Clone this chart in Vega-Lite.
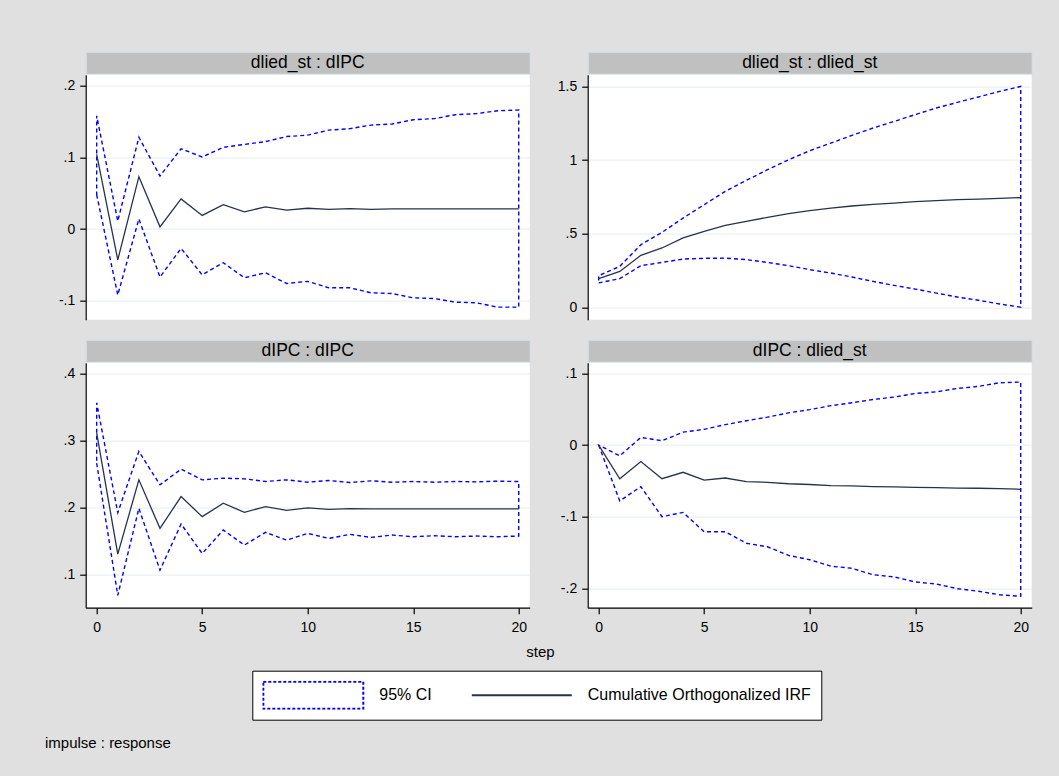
{
  "$schema": "https://vega.github.io/schema/vega-lite/v6.json",
  "background": "#e0e0e0",
  "padding": {"left": 44.7, "top": 50.7, "right": 26.3, "bottom": 25},
  "title": {"text": "impulse : response", "orient": "bottom", "anchor": "start", "frame": "group", "dx": -40.7, "offset": 16.3, "fontSize": 15, "fontWeight": "normal", "color": "#000000", "font": "Liberation Sans"},
  "data": {"values": [
    {"p": "a", "step": 0, "irf": 0.104, "lo": 0.048, "hi": 0.158},
    {"p": "a", "step": 1, "irf": -0.043, "lo": -0.092, "hi": 0.011},
    {"p": "a", "step": 2, "irf": 0.073, "lo": 0.014, "hi": 0.128},
    {"p": "a", "step": 3, "irf": 0.003, "lo": -0.067, "hi": 0.074},
    {"p": "a", "step": 4, "irf": 0.042, "lo": -0.027, "hi": 0.112},
    {"p": "a", "step": 5, "irf": 0.019, "lo": -0.064, "hi": 0.1005},
    {"p": "a", "step": 6, "irf": 0.034, "lo": -0.047, "hi": 0.114},
    {"p": "a", "step": 7, "irf": 0.024, "lo": -0.068, "hi": 0.118},
    {"p": "a", "step": 8, "irf": 0.031, "lo": -0.061, "hi": 0.122},
    {"p": "a", "step": 9, "irf": 0.0265, "lo": -0.076, "hi": 0.129},
    {"p": "a", "step": 10, "irf": 0.029, "lo": -0.073, "hi": 0.131},
    {"p": "a", "step": 11, "irf": 0.0274, "lo": -0.082, "hi": 0.138},
    {"p": "a", "step": 12, "irf": 0.0284, "lo": -0.082, "hi": 0.14},
    {"p": "a", "step": 13, "irf": 0.0274, "lo": -0.089, "hi": 0.145},
    {"p": "a", "step": 14, "irf": 0.028, "lo": -0.09, "hi": 0.1465},
    {"p": "a", "step": 15, "irf": 0.028, "lo": -0.096, "hi": 0.1525},
    {"p": "a", "step": 16, "irf": 0.028, "lo": -0.097, "hi": 0.154},
    {"p": "a", "step": 17, "irf": 0.028, "lo": -0.102, "hi": 0.1595},
    {"p": "a", "step": 18, "irf": 0.028, "lo": -0.103, "hi": 0.161},
    {"p": "a", "step": 19, "irf": 0.028, "lo": -0.109, "hi": 0.165},
    {"p": "a", "step": 20, "irf": 0.028, "lo": -0.109, "hi": 0.166},
    {"p": "b", "step": 0, "irf": 0.195, "lo": 0.166, "hi": 0.215},
    {"p": "b", "step": 1, "irf": 0.244, "lo": 0.195, "hi": 0.278},
    {"p": "b", "step": 2, "irf": 0.353, "lo": 0.283, "hi": 0.425},
    {"p": "b", "step": 3, "irf": 0.403, "lo": 0.305, "hi": 0.509},
    {"p": "b", "step": 4, "irf": 0.471, "lo": 0.328, "hi": 0.606},
    {"p": "b", "step": 5, "irf": 0.516, "lo": 0.333, "hi": 0.697},
    {"p": "b", "step": 6, "irf": 0.557, "lo": 0.334, "hi": 0.787},
    {"p": "b", "step": 7, "irf": 0.584, "lo": 0.324, "hi": 0.862},
    {"p": "b", "step": 8, "irf": 0.611, "lo": 0.305, "hi": 0.934},
    {"p": "b", "step": 9, "irf": 0.636, "lo": 0.283, "hi": 1.002},
    {"p": "b", "step": 10, "irf": 0.656, "lo": 0.256, "hi": 1.063},
    {"p": "b", "step": 11, "irf": 0.674, "lo": 0.233, "hi": 1.115},
    {"p": "b", "step": 12, "irf": 0.688, "lo": 0.206, "hi": 1.167},
    {"p": "b", "step": 13, "irf": 0.699, "lo": 0.176, "hi": 1.217},
    {"p": "b", "step": 14, "irf": 0.708, "lo": 0.149, "hi": 1.262},
    {"p": "b", "step": 15, "irf": 0.717, "lo": 0.124, "hi": 1.308},
    {"p": "b", "step": 16, "irf": 0.724, "lo": 0.097, "hi": 1.353},
    {"p": "b", "step": 17, "irf": 0.731, "lo": 0.07, "hi": 1.391},
    {"p": "b", "step": 18, "irf": 0.735, "lo": 0.048, "hi": 1.428},
    {"p": "b", "step": 19, "irf": 0.74, "lo": 0.023, "hi": 1.466},
    {"p": "b", "step": 20, "irf": 0.745, "lo": 0.001, "hi": 1.499},
    {"p": "c", "step": 0, "irf": 0.311, "lo": 0.266, "hi": 0.356},
    {"p": "c", "step": 1, "irf": 0.13, "lo": 0.0685, "hi": 0.192},
    {"p": "c", "step": 2, "irf": 0.241, "lo": 0.1985, "hi": 0.2835},
    {"p": "c", "step": 3, "irf": 0.1685, "lo": 0.106, "hi": 0.2335},
    {"p": "c", "step": 4, "irf": 0.216, "lo": 0.175, "hi": 0.257},
    {"p": "c", "step": 5, "irf": 0.186, "lo": 0.131, "hi": 0.241},
    {"p": "c", "step": 6, "irf": 0.206, "lo": 0.166, "hi": 0.2435},
    {"p": "c", "step": 7, "irf": 0.1925, "lo": 0.1435, "hi": 0.2425},
    {"p": "c", "step": 8, "irf": 0.201, "lo": 0.1625, "hi": 0.2385},
    {"p": "c", "step": 9, "irf": 0.1955, "lo": 0.151, "hi": 0.241},
    {"p": "c", "step": 10, "irf": 0.199, "lo": 0.161, "hi": 0.2375},
    {"p": "c", "step": 11, "irf": 0.197, "lo": 0.1535, "hi": 0.24},
    {"p": "c", "step": 12, "irf": 0.198, "lo": 0.1595, "hi": 0.237},
    {"p": "c", "step": 13, "irf": 0.1975, "lo": 0.155, "hi": 0.2395},
    {"p": "c", "step": 14, "irf": 0.1975, "lo": 0.1585, "hi": 0.2375},
    {"p": "c", "step": 15, "irf": 0.1975, "lo": 0.156, "hi": 0.2385},
    {"p": "c", "step": 16, "irf": 0.1975, "lo": 0.1575, "hi": 0.2375},
    {"p": "c", "step": 17, "irf": 0.1975, "lo": 0.156, "hi": 0.2385},
    {"p": "c", "step": 18, "irf": 0.1975, "lo": 0.157, "hi": 0.238},
    {"p": "c", "step": 19, "irf": 0.1975, "lo": 0.156, "hi": 0.239},
    {"p": "c", "step": 20, "irf": 0.1975, "lo": 0.157, "hi": 0.2385},
    {"p": "d", "step": 0, "irf": 0, "lo": 0, "hi": 0},
    {"p": "d", "step": 1, "irf": -0.047, "lo": -0.078, "hi": -0.015},
    {"p": "d", "step": 2, "irf": -0.023, "lo": -0.058, "hi": 0.0107},
    {"p": "d", "step": 3, "irf": -0.047, "lo": -0.1, "hi": 0.006},
    {"p": "d", "step": 4, "irf": -0.038, "lo": -0.094, "hi": 0.018},
    {"p": "d", "step": 5, "irf": -0.049, "lo": -0.121, "hi": 0.022},
    {"p": "d", "step": 6, "irf": -0.046, "lo": -0.121, "hi": 0.0285},
    {"p": "d", "step": 7, "irf": -0.051, "lo": -0.137, "hi": 0.034},
    {"p": "d", "step": 8, "irf": -0.052, "lo": -0.142, "hi": 0.039},
    {"p": "d", "step": 9, "irf": -0.054, "lo": -0.154, "hi": 0.045},
    {"p": "d", "step": 10, "irf": -0.055, "lo": -0.16, "hi": 0.0495},
    {"p": "d", "step": 11, "irf": -0.0565, "lo": -0.169, "hi": 0.055},
    {"p": "d", "step": 12, "irf": -0.057, "lo": -0.172, "hi": 0.059},
    {"p": "d", "step": 13, "irf": -0.058, "lo": -0.181, "hi": 0.0636},
    {"p": "d", "step": 14, "irf": -0.0584, "lo": -0.184, "hi": 0.067},
    {"p": "d", "step": 15, "irf": -0.059, "lo": -0.191, "hi": 0.072},
    {"p": "d", "step": 16, "irf": -0.0593, "lo": -0.194, "hi": 0.0743},
    {"p": "d", "step": 17, "irf": -0.06, "lo": -0.2005, "hi": 0.079},
    {"p": "d", "step": 18, "irf": -0.0603, "lo": -0.204, "hi": 0.082},
    {"p": "d", "step": 19, "irf": -0.0607, "lo": -0.209, "hi": 0.087},
    {"p": "d", "step": 20, "irf": -0.0617, "lo": -0.211, "hi": 0.088}
  ]},
  "columns": 2,
  "bounds": "flush",
  "align": "each",
  "spacing": {"row": 1, "column": 58},
  "concat": [
    {"width": 444, "height": 22, "data": {"values": [{"t": "dlied_st : dIPC"}]}, "view": {"fill": "#c0c0c0", "stroke": "#d3e2ea", "strokeWidth": 1},
     "mark": {"type": "text", "fontSize": 17.5, "color": "#000000", "baseline": "middle"}, "encoding": {"text": {"field": "t"}}},
    {"width": 444, "height": 22, "data": {"values": [{"t": "dlied_st : dlied_st"}]}, "view": {"fill": "#c0c0c0", "stroke": "#d3e2ea", "strokeWidth": 1},
     "mark": {"type": "text", "fontSize": 17.5, "color": "#000000", "baseline": "middle"}, "encoding": {"text": {"field": "t"}}},
    {
      "width": 444, "height": 245, "view": {"fill": "#ffffff", "stroke": null},
      "transform": [{"filter": "datum.p == 'a'"}],
      "encoding": {"x": {"field": "step", "type": "quantitative", "scale": {"domain": [-0.52, 20.52], "nice": false, "zero": false}, "axis": null}},
      "layer": [
        {"mark": {"type": "area", "fill": "transparent", "stroke": "#0000ff", "strokeWidth": 1.4, "strokeDash": [4, 3]},
         "encoding": {"y": {"field": "lo", "type": "quantitative", "scale": {"domain": [-0.1265, 0.2153], "nice": false, "zero": false},
           "axis": {"values": [-0.1, 0, 0.1, 0.2], "labelExpr": "replace(datum.value + '', '0.', '.')", "grid": true, "title": null, "labelPadding": 5}},
           "y2": {"field": "hi"}}},
        {"mark": {"type": "line", "strokeWidth": 1.3},
         "encoding": {"y": {"field": "irf", "type": "quantitative"},
           "color": {"datum": "Cumulative Orthogonalized IRF", "type": "nominal",
             "scale": {"domain": ["95% CI", "Cumulative Orthogonalized IRF"], "range": ["#0000ff", "#26324f"]},
             "legend": {
               "orient": "none", "legendX": 166.6, "legendY": 619, "direction": "horizontal", "title": null,
               "padding": 10, "strokeColor": "#000000", "fillColor": "#ffffff", "cornerRadius": 0,
               "labelFontSize": 16, "labelColor": "#000000", "labelOffset": 15, "columnPadding": 38.5,
               "symbolSize": 10000, "symbolStrokeWidth": 2, "clipHeight": 29, "labelLimit": 400,
               "encode": {"symbols": {"update": {
                 "size": {"value": 10000},
                 "shape": {"signal": "datum.value == '95% CI' ? 'M-1,-0.27H1V0.27H-1Z' : 'M-1,0H1'"},
                 "fill": {"signal": "datum.value == '95% CI' ? '#ffffff' : 'transparent'"},
                 "stroke": {"signal": "datum.value == '95% CI' ? '#0000ff' : '#26324f'"},
                 "strokeWidth": {"value": 2},
                 "strokeDash": {"signal": "datum.value == '95% CI' ? [3, 2] : [1, 0]"},
                 "opacity": {"value": 1}
               }}}
             }}}}
      ]
    },
    {
      "width": 444, "height": 245, "view": {"fill": "#ffffff", "stroke": null},
      "transform": [{"filter": "datum.p == 'b'"}],
      "encoding": {"x": {"field": "step", "type": "quantitative", "scale": {"domain": [-0.52, 20.52], "nice": false, "zero": false}, "axis": null}},
      "layer": [
        {"mark": {"type": "area", "fill": "transparent", "stroke": "#0000ff", "strokeWidth": 1.4, "strokeDash": [4, 3]},
         "encoding": {"y": {"field": "lo", "type": "quantitative", "scale": {"domain": [-0.0837, 1.579], "nice": false, "zero": false},
           "axis": {"values": [0, 0.5, 1, 1.5], "labelExpr": "replace(datum.value + '', '0.', '.')", "grid": true, "title": null, "labelPadding": 5}},
           "y2": {"field": "hi"}}},
        {"mark": {"type": "line", "strokeWidth": 1.3},
         "encoding": {"y": {"field": "irf", "type": "quantitative"},
           "color": {"datum": "Cumulative Orthogonalized IRF", "type": "nominal",
             "scale": {"domain": ["95% CI", "Cumulative Orthogonalized IRF"], "range": ["#0000ff", "#26324f"]}}}}
      ]
    },
    {"width": 444, "height": 18, "data": {"values": [{"t": ""}]}, "mark": {"type": "text"}, "encoding": {"text": {"field": "t"}}},
    {"width": 444, "height": 18, "data": {"values": [{"t": ""}]}, "mark": {"type": "text"}, "encoding": {"text": {"field": "t"}}},
    {"width": 444, "height": 22, "data": {"values": [{"t": "dIPC : dIPC"}]}, "view": {"fill": "#c0c0c0", "stroke": "#d3e2ea", "strokeWidth": 1},
     "mark": {"type": "text", "fontSize": 17.5, "color": "#000000", "baseline": "middle"}, "encoding": {"text": {"field": "t"}}},
    {"width": 444, "height": 22, "data": {"values": [{"t": "dIPC : dlied_st"}]}, "view": {"fill": "#c0c0c0", "stroke": "#d3e2ea", "strokeWidth": 1},
     "mark": {"type": "text", "fontSize": 17.5, "color": "#000000", "baseline": "middle"}, "encoding": {"text": {"field": "t"}}},
    {
      "width": 444, "height": 245, "view": {"fill": "#ffffff", "stroke": null},
      "transform": [{"filter": "datum.p == 'c'"}],
      "encoding": {"x": {"field": "step", "type": "quantitative", "scale": {"domain": [-0.52, 20.52], "nice": false, "zero": false},
        "axis": {"values": [0, 5, 10, 15, 20], "grid": false, "labelPadding": 7, "format": "d",
          "title": "step", "titleX": 454.3, "titleY": 48.5, "titleBaseline": "alphabetic", "titleAlign": "center", "titleFontSize": 15, "titleFontWeight": "normal", "titleColor": "#000000", "titleFont": "Liberation Sans"}}},
      "layer": [
        {"mark": {"type": "area", "fill": "transparent", "stroke": "#0000ff", "strokeWidth": 1.4, "strokeDash": [4, 3]},
         "encoding": {"y": {"field": "lo", "type": "quantitative", "scale": {"domain": [0.05, 0.416], "nice": false, "zero": false},
           "axis": {"values": [0.1, 0.2, 0.3, 0.4], "labelExpr": "replace(datum.value + '', '0.', '.')", "grid": true, "title": null, "labelPadding": 5}},
           "y2": {"field": "hi"}}},
        {"mark": {"type": "line", "strokeWidth": 1.3},
         "encoding": {"y": {"field": "irf", "type": "quantitative"},
           "color": {"datum": "Cumulative Orthogonalized IRF", "type": "nominal",
             "scale": {"domain": ["95% CI", "Cumulative Orthogonalized IRF"], "range": ["#0000ff", "#26324f"]}}}}
      ]
    },
    {
      "width": 444, "height": 245, "view": {"fill": "#ffffff", "stroke": null},
      "transform": [{"filter": "datum.p == 'd'"}],
      "encoding": {"x": {"field": "step", "type": "quantitative", "scale": {"domain": [-0.52, 20.52], "nice": false, "zero": false},
        "axis": {"values": [0, 5, 10, 15, 20], "grid": false, "title": null, "labelPadding": 7, "format": "d"}}},
      "layer": [
        {"mark": {"type": "area", "fill": "transparent", "stroke": "#0000ff", "strokeWidth": 1.4, "strokeDash": [4, 3]},
         "encoding": {"y": {"field": "lo", "type": "quantitative", "scale": {"domain": [-0.227, 0.115], "nice": false, "zero": false},
           "axis": {"values": [-0.2, -0.1, 0, 0.1], "labelExpr": "replace(datum.value + '', '0.', '.')", "grid": true, "title": null, "labelPadding": 5}},
           "y2": {"field": "hi"}}},
        {"mark": {"type": "line", "strokeWidth": 1.3},
         "encoding": {"y": {"field": "irf", "type": "quantitative"},
           "color": {"datum": "Cumulative Orthogonalized IRF", "type": "nominal",
             "scale": {"domain": ["95% CI", "Cumulative Orthogonalized IRF"], "range": ["#0000ff", "#26324f"]}}}}
      ]
    }
  ],
  "config": {
    "font": "Liberation Sans",
    "view": {"stroke": null},
    "axis": {"labelFont": "Liberation Sans", "labelColor": "#000000", "labelFontSize": 14, "domainColor": "#000000", "tickColor": "#000000", "domainWidth": 1.2, "tickWidth": 1.2, "tickSize": 6, "gridColor": "#eaf2f3", "gridWidth": 1.3}
  }
}
